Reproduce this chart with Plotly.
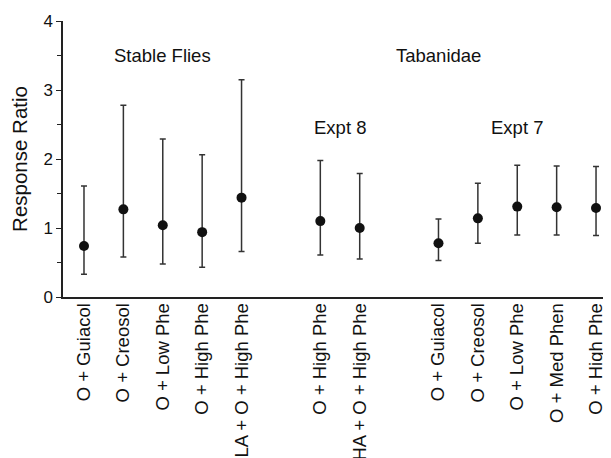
import plotly.graph_objects as go

positions = [0, 1, 2, 3, 4, 6, 7, 9, 10, 11, 12, 13]
labels = ["O + Guiacol", "O + Creosol", "O + Low Phe", "O + High Phe", "LA + O + High Phe",
          "O + High Phe", "HA + O + High Phe",
          "O + Guiacol", "O + Creosol", "O + Low Phe", "O + Med Phen", "O + High Phe"]
means = [0.74, 1.27, 1.04, 0.94, 1.44, 1.10, 1.00, 0.78, 1.14, 1.31, 1.30, 1.29]
upper = [1.61, 2.78, 2.29, 2.06, 3.15, 1.98, 1.79, 1.13, 1.65, 1.91, 1.90, 1.89]
lower = [0.33, 0.58, 0.48, 0.43, 0.66, 0.61, 0.55, 0.53, 0.78, 0.90, 0.90, 0.89]

group_text = ["Stable Flies", "Tabanidae", "Expt 8", "Expt 7"]
group_x = [2, 9, 6.5, 11]
group_y = [3.5, 3.5, 2.45, 2.45]

err_plus = [u - m for u, m in zip(upper, means)]
err_minus = [m - l for m, l in zip(means, lower)]

FONT = "Arial, Liberation Sans, sans-serif"

fig = go.Figure()
fig.add_trace(go.Scatter(
    x=positions, y=means, mode="markers",
    marker=dict(color="#111111", size=10),
    error_y=dict(type="data", symmetric=False, array=err_plus, arrayminus=err_minus,
                 color="#333333", thickness=1.5, width=3),
    showlegend=False,
))

for t, x, y in zip(group_text, group_x, group_y):
    fig.add_annotation(x=x, y=y, text=t, showarrow=False,
                       font=dict(family=FONT, size=18.5, color="#111111"))

# page body has an 8px margin; compensate so the plot sits where the reference does
fig.update_layout(
    width=603, height=450,
    margin=dict(l=55, r=0, t=13, b=161),
    paper_bgcolor="white", plot_bgcolor="white",
    font=dict(family=FONT, color="#111111"),
)
fig.update_xaxes(
    range=[-0.533, 13.38], tickmode="array", tickvals=positions, ticktext=labels,
    tickangle=-90, tickfont=dict(size=18.5, family=FONT, color="#111111"),
    ticklabelstandoff=-3,
    showline=True, linecolor="#222222", linewidth=1.5, showgrid=False, zeroline=False,
    ticks="", automargin=False,
)
fig.update_yaxes(
    range=[0, 4], tickvals=[0, 1, 2, 3, 4], ticks="outside", ticklen=5, tickwidth=1.2,
    tickcolor="#222222",
    minor=dict(ticks="outside", dtick=0.5, ticklen=4, tickcolor="#222222", tickwidth=1.2),
    showline=True, linecolor="#222222", linewidth=1.5, showgrid=False, zeroline=False,
    tickfont=dict(size=17, family=FONT, color="#111111"),
    title=dict(text="Response Ratio", font=dict(size=20.5, family=FONT, color="#111111"), standoff=10),
    automargin=False,
)

fig.write_html("out.html")
